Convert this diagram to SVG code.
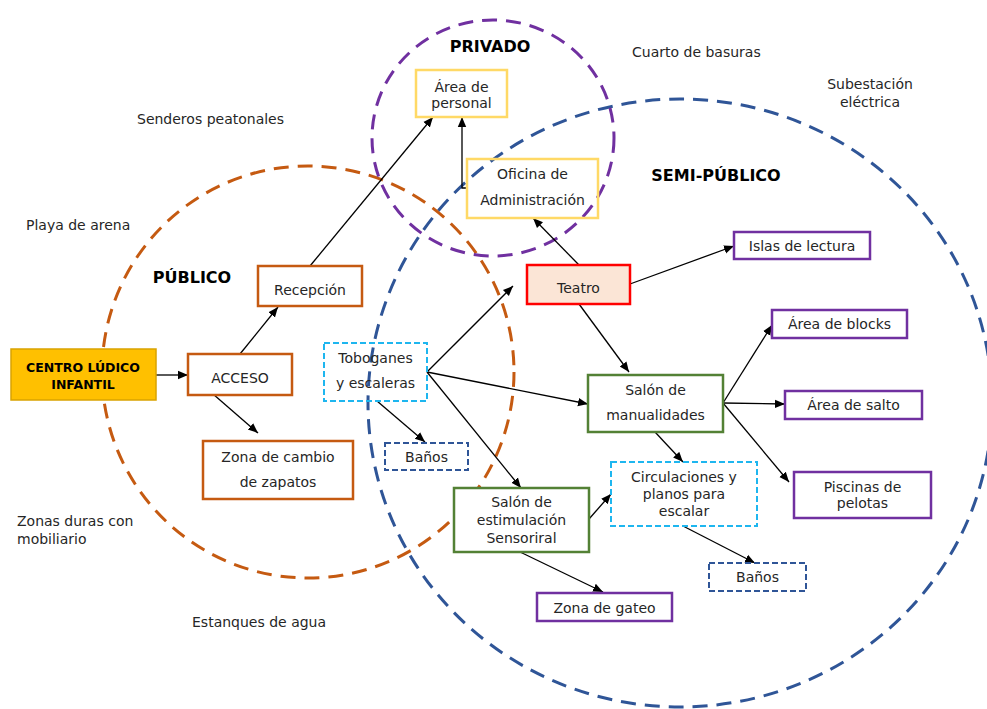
<svg xmlns="http://www.w3.org/2000/svg" width="987" height="709" viewBox="0 0 987 709">
<defs>
<marker id="ah" viewBox="0 0 10 10" refX="10" refY="5" markerWidth="10" markerHeight="10" markerUnits="userSpaceOnUse" orient="auto">
<path d="M0,0.8 L10,5 L0,9.2 z" fill="#000"/>
</marker>
</defs>
<style>
text{font-family:"DejaVu Sans","Liberation Sans",sans-serif;font-size:14px;fill:#262626}
.c{text-anchor:middle}
.b{font-weight:bold;fill:#000;font-size:16px}
.zone{fill:none;stroke-width:3;stroke-dasharray:15 9}
.box{fill:#fff;stroke-width:2.5}
.or{stroke:#C55A11}
.ye{stroke:#FFD966}
.gr{stroke:#538135}
.pu{stroke:#7030A0}
.lb{fill:none;stroke:#1EB6EF;stroke-width:2;stroke-dasharray:6 3}
.db{fill:#fff;stroke:#2F5597;stroke-width:2;stroke-dasharray:6 3}
.conn path{fill:none;stroke:#000;stroke-width:1.3;marker-end:url(#ah)}
</style>
<rect width="987" height="709" fill="#fff"/>
<g id="zones">
<ellipse id="zona-semipublico" class="zone" cx="680" cy="403" rx="312" ry="304" stroke="#2F5597"/>
<circle id="zona-publico" class="zone" cx="308" cy="372" r="206" stroke="#C55A11"/>
<ellipse id="zona-privado" class="zone" cx="493" cy="138" rx="121" ry="118" stroke="#7030A0"/>
</g>
<g id="labels">
<text class="b c" x="490" y="52">PRIVADO</text>
<text class="b c" x="192" y="283">PÚBLICO</text>
<text class="b c" x="716" y="181">SEMI-PÚBLICO</text>
<text x="632" y="57">Cuarto de basuras</text>
<text class="c" x="870" y="89">Subestación</text>
<text class="c" x="870" y="107">eléctrica</text>
<text x="137" y="124">Senderos peatonales</text>
<text x="26" y="230">Playa de arena</text>
<text x="17" y="526">Zonas duras con</text>
<text x="17" y="544">mobiliario</text>
<text x="192" y="627">Estanques de agua</text>
</g>
<g id="connectors" class="conn">
<path d="M156,375 L188,375"/>
<path d="M240,354 L278,307"/>
<path d="M213,394 L258,433"/>
<path d="M310,266 L433,117"/>
<path d="M467,188 L462,188 L462,117"/>
<path d="M579,265 L533,218"/>
<path d="M630,284 L734,246"/>
<path d="M579,304 L629,372"/>
<path d="M427,372 L513,286"/>
<path d="M427,372 L588,404"/>
<path d="M427,372 L521,488"/>
<path d="M377,401 L425,442"/>
<path d="M723,403 L772,325"/>
<path d="M723,403 L785,404"/>
<path d="M723,403 L789,482"/>
<path d="M655,432 L683,462"/>
<path d="M589,519 L611,494"/>
<path d="M518,551 L603,592"/>
<path d="M683,526 L755,563"/>
</g>
<g id="centro">
<rect x="11" y="349" width="145" height="51" fill="#FFC000" stroke="#D9A300" stroke-width="1.5"/>
<text class="c" x="83" y="372" style="font-weight:bold;fill:#000;font-size:12.5px">CENTRO LÚDICO</text>
<text class="c" x="83" y="389" style="font-weight:bold;fill:#000;font-size:12.5px">INFANTIL</text>
</g>
<g id="acceso">
<rect class="box or" x="188" y="354" width="104" height="41"/>
<text class="c" x="240" y="383">ACCESO</text>
</g>
<g id="recepcion">
<rect class="box or" x="258" y="266" width="104" height="40"/>
<text class="c" x="310" y="295">Recepción</text>
</g>
<g id="zona-zapatos">
<rect class="box or" x="203" y="441" width="150" height="58"/>
<text class="c" x="278" y="462">Zona de cambio</text>
<text class="c" x="278" y="487">de zapatos</text>
</g>
<g id="area-personal">
<rect class="box ye" x="416" y="70" width="91" height="47"/>
<text class="c" x="461.5" y="92">Área de</text>
<text class="c" x="461.5" y="108">personal</text>
</g>
<g id="oficina">
<rect class="box ye" x="467" y="159" width="131" height="59" style="fill:none"/>
<text class="c" x="532.5" y="179">Oficina de</text>
<text class="c" x="532.5" y="205">Administración</text>
</g>
<g id="toboganes">
<rect class="lb" x="324" y="343" width="103" height="58"/>
<text class="c" x="375.5" y="363">Toboganes</text>
<text class="c" x="375.5" y="388">y escaleras</text>
</g>
<g id="banos-1">
<rect class="db" x="385" y="443" width="83" height="27"/>
<text class="c" x="426.5" y="462">Baños</text>
</g>
<g id="teatro">
<rect x="527" y="265" width="103" height="39" fill="#FBE5D6" stroke="#FF0000" stroke-width="2.5"/>
<text class="c" x="578.5" y="293">Teatro</text>
</g>
<g id="islas">
<rect class="box pu" x="734" y="232" width="136" height="27"/>
<text class="c" x="802" y="251">Islas de lectura</text>
</g>
<g id="blocks">
<rect class="box pu" x="772" y="310" width="135" height="28"/>
<text class="c" x="839.5" y="329">Área de blocks</text>
</g>
<g id="salto">
<rect class="box pu" x="785" y="391" width="137" height="28"/>
<text class="c" x="853.5" y="410">Área de salto</text>
</g>
<g id="manualidades">
<rect class="box gr" x="588" y="375" width="135" height="57"/>
<text class="c" x="655.5" y="395">Salón de</text>
<text class="c" x="655.5" y="420">manualidades</text>
</g>
<g id="piscinas">
<rect class="box pu" x="794" y="472" width="137" height="46"/>
<text class="c" x="862.5" y="492">Piscinas de</text>
<text class="c" x="862.5" y="508">pelotas</text>
</g>
<g id="circulaciones">
<rect class="lb" x="611" y="462" width="146" height="64"/>
<text class="c" x="684" y="482">Circulaciones y</text>
<text class="c" x="684" y="499">planos para</text>
<text class="c" x="684" y="516">escalar</text>
</g>
<g id="estimulacion">
<rect class="box gr" x="454" y="488" width="135" height="64"/>
<text class="c" x="521.5" y="507">Salón de</text>
<text class="c" x="521.5" y="525">estimulación</text>
<text class="c" x="521.5" y="543">Sensoriral</text>
</g>
<g id="banos-2">
<rect class="db" x="709" y="563" width="97" height="28"/>
<text class="c" x="757.5" y="582">Baños</text>
</g>
<g id="gateo">
<rect class="box pu" x="537" y="593" width="135" height="28"/>
<text class="c" x="604.5" y="613">Zona de gateo</text>
</g>
</svg>
